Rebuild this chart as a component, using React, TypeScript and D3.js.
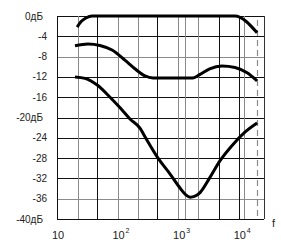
import React from "react";
import * as d3 from "d3";

// ---- data ----
const dbTicks = [0, -4, -8, -12, -16, -20, -24, -28, -32, -36, -40];
const dbLabels = ["0дБ", "-4", "-8", "-12", "-16", "-20дБ", "-24", "-28", "-32", "-36", "-40дБ"];
const freqTicks = [10, 100, 1000, 10000];
const freqExponents = ["", "2", "3", "4"];
const gridFreqs = [22, 46, 100, 215, 450, 1000, 1300, 2100, 4700, 10000, 12000];
const grayGridFreqs = [22, 100, 215, 1000, 1300, 2100, 12000];
const cutoffFreq = 20000;

const curve1Freq = [21.5, 25, 30, 38, 8600, 20000];
const curve1Db = [-2.2, -1.1, -0.4, 0, 0, -3.3];

const curve2Freq = [19.8, 32.5, 51, 81, 132, 193, 283, 383, 1750, 2290, 3300, 5250, 8650, 13700, 20000];
const curve2Db = [-5.85, -5.5, -5.8, -6.7, -8.7, -10.4, -11.8, -12.2, -12.2, -11.5, -10.4, -9.85, -10.15, -11.2, -12.8];

const curve3Freq = [19.8, 29, 46, 75, 110, 160, 234, 283, 464, 730, 1070, 1350, 1570, 1890, 2290, 3300, 4900, 7620, 12600, 20000];
const curve3Db = [-12.0, -12.3, -13.6, -16.0, -18.1, -20.3, -22.1, -23.8, -28.0, -31.1, -33.9, -35.3, -35.7, -35.5, -34.8, -31.9, -28.5, -25.6, -22.9, -21.1];

const grayDb = [-8, -36];

const W = 281;
const H = 251;

export default function App() {
  const x = d3.scaleLog().domain([10, 26000]).range([57, 264]);
  const y = d3.scaleLinear().domain([0, -40]).range([16, 219]);
  const line = d3
    .line<[number, number]>()
    .x((d) => x(d[0]))
    .y((d) => y(d[1]))
    .curve(d3.curveMonotoneX);
  const zip = (a: number[], b: number[]) => a.map((v, i) => [v, b[i]] as [number, number]);
  const font = "'Liberation Sans', Arial, sans-serif";
  const x0 = x.range()[0];
  const x1 = x.range()[1];
  const y0 = y.range()[0];
  const y1 = y.range()[1];
  return (
    <svg width={W} height={H} style={{ position: "absolute", left: 0, top: 0, background: "#fff" }}>
      {/* horizontal grid */}
      {dbTicks.map((d) => (
        <line
          key={"h" + d}
          x1={x0}
          x2={x1}
          y1={Math.round(y(d)) + 0.5}
          y2={Math.round(y(d)) + 0.5}
          stroke={grayDb.includes(d) ? "#8a8a8a" : "#111"}
          strokeWidth={1}
        />
      ))}
      {/* vertical grid */}
      {gridFreqs.map((f) => (
        <line
          key={"v" + f}
          x1={Math.round(x(f)) + 0.5}
          x2={Math.round(x(f)) + 0.5}
          y1={y0}
          y2={y1}
          stroke={grayGridFreqs.includes(f) ? "#8a8a8a" : "#111"}
          strokeWidth={1}
        />
      ))}
      {/* borders */}
      <line x1={x0 + 0.5} x2={x0 + 0.5} y1={y0} y2={y1} stroke="#111" />
      <line x1={x1 + 0.5} x2={x1 + 0.5} y1={y0} y2={y1} stroke="#333" />
      {/* cutoff dashed */}
      <line
        x1={Math.round(x(cutoffFreq)) + 0.5}
        x2={Math.round(x(cutoffFreq)) + 0.5}
        y1={y0 + 4}
        y2={y1 - 2}
        stroke="#8a8a8a"
        strokeWidth={1.2}
        strokeDasharray="6,4"
      />
      {/* curves */}
      <path d={line(zip(curve1Freq, curve1Db))!} fill="none" stroke="#000" strokeWidth={3} />
      <path d={line(zip(curve2Freq, curve2Db))!} fill="none" stroke="#000" strokeWidth={3} />
      <path d={line(zip(curve3Freq, curve3Db))!} fill="none" stroke="#000" strokeWidth={3} />
      {/* y labels */}
      {dbTicks.map((d, i) => (
        <text
          key={"yl" + d}
          x={dbLabels[i].includes("дБ") ? 43 : 47}
          y={y(d) + 3.5}
          textAnchor="end"
          fontFamily={font}
          fontSize={10}
          fill="#222"
        >
          {dbLabels[i]}
        </text>
      ))}
      {/* x labels */}
      {freqTicks.map((f, i) => (
        <g key={"xl" + f}>
          <text x={x(f) + 1} y={239} textAnchor="middle" fontFamily={font} fontSize={11} fill="#222">
            10
          </text>
          {freqExponents[i] && (
            <text x={x(f) + 8} y={233} fontFamily={font} fontSize={7} fill="#222">
              {freqExponents[i]}
            </text>
          )}
        </g>
      ))}
      <text x={272} y={227} fontFamily={font} fontSize={11} fill="#222">
        f
      </text>
    </svg>
  );
}
